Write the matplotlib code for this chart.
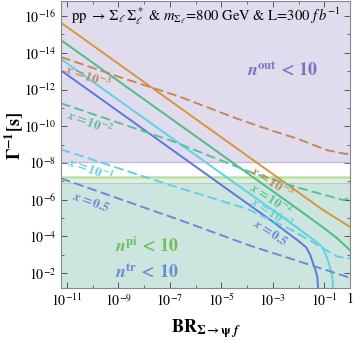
import numpy as np
import matplotlib
matplotlib.use("Agg")
import matplotlib.pyplot as plt
from matplotlib.ticker import FixedLocator, LogLocator, NullFormatter

plt.rcParams["font.family"] = "STIXGeneral"
plt.rcParams["mathtext.fontset"] = "stix"

# curves, as log10(BR) / log10(Gamma^-1 [s])
orange_solid_x = [-11.23, -1.04, 0.0]
orange_solid_y = [-15.64, -5.43, -4.52]
green_solid_x = [-11.23, -2.0, -1.0, -0.5, 0.0]
green_solid_y = [-14.69, -5.46, -4.44, -3.9, -3.25]
cyan_solid_x = [-11.23, -2.4, -1.4, -1.1, -0.95, -0.85, -0.76, -0.69, -0.66]
cyan_solid_y = [-13.66, -4.83, -3.8, -3.45, -3.05, -2.65, -2.25, -1.85, -1.19]
blue_solid_x = [-11.23, -3.0, -2.0, -1.7, -1.55, -1.45, -1.35, -1.27, -1.24]
blue_solid_y = [-13.04, -4.8, -3.75, -3.4, -3.0, -2.6, -2.2, -1.8, -1.19]

orange_dash_x = [-11.23, -9.0, -6.6, -4.5, -3.1, -2.0, -0.9, -0.13, 0.0]
orange_dash_y = [-13.77, -12.7, -11.6, -10.47, -9.79, -9.3, -8.7, -8.48, -8.7]
green_dash_x = [-11.23, -7.0, -3.77, -2.0, -0.26, 0.0]
green_dash_y = [-11.25, -9.24, -7.45, -6.65, -5.98, -6.1]
cyan_dash_x = [-11.23, -7.0, -4.0, -2.2, -0.5, 0.0]
cyan_dash_y = [-8.74, -6.8, -5.5, -4.3, -2.9, -2.8]
blue_dash_x = [-11.23, -6.61, -3.89, 0.0]
blue_dash_y = [-7.16, -4.89, -3.5, -1.75]

# excluded regions (log10 Gamma^-1 boundaries)
n_out_edge = -8.05
n_pi_edge = -7.23
n_tr_edge = -6.9

XLIM = (-11.23, 0.0)
YLIM = (-1.19, -16.82)

C_OR, C_GR, C_CY, C_BL = "#d9953a", "#4dbd84", "#5dd3e3", "#5a78e0"
C_ORd, C_GRd, C_CYd, C_BLd = "#c48a55", "#5cc09a", "#62d0e6", "#6a8cd8"

fig = plt.figure(figsize=(3.54, 3.41), dpi=100)
ax = fig.add_axes([61 / 354, 1 - 288 / 341, 289 / 354, 287 / 341])
ax.set_xscale("log"); ax.set_yscale("log")
ax.set_xlim(10 ** XLIM[0], 10 ** XLIM[1])
ax.set_ylim(10 ** YLIM[0], 10 ** YLIM[1])

xs = [10 ** XLIM[0], 10 ** XLIM[1]]
ax.fill_between(xs, 10 ** YLIM[1], 10 ** n_out_edge, color="#e0dcee", lw=0)
ax.axhline(10 ** n_out_edge, color="#c3bbe0", lw=1)
ax.fill_between(xs, 10 ** n_pi_edge, 10 ** YLIM[0], color="#e2efd8", lw=0)
ax.fill_between(xs, 10 ** n_tr_edge, 10 ** YLIM[0], color="#cce5de", lw=0)
ax.axhline(10 ** n_pi_edge, color="#bde0a8", lw=1.8)
ax.axhline(10 ** n_tr_edge, color="#b4c9d6", lw=0.8)

def p(x, y):
    return 10 ** np.array(x), 10 ** np.array(y)

for x, y, c in [(orange_solid_x, orange_solid_y, C_OR), (green_solid_x, green_solid_y, C_GR),
                (cyan_solid_x, cyan_solid_y, C_CY), (blue_solid_x, blue_solid_y, C_BL)]:
    ax.plot(*p(x, y), color=c, lw=1.4)
for x, y, c in [(orange_dash_x, orange_dash_y, C_ORd), (green_dash_x, green_dash_y, C_GRd),
                (cyan_dash_x, cyan_dash_y, C_CYd), (blue_dash_x, blue_dash_y, C_BLd)]:
    ax.plot(*p(x, y), color=c, lw=1.4, dashes=(5, 2.2))

# contour labels
lab = dict(fontsize=9.5, ha="center", va="center")
for (lx, ly), t, c in [((-10.18, -12.68), r"$\mathbfit{x}\mathbf{=10^{-3}}$", C_ORd),
                       ((-10.1, -10.17), r"$\mathbfit{x}\mathbf{=10^{-2}}$", C_GRd),
                       ((-10.1, -7.61), r"$\mathbfit{x}\mathbf{=10^{-1}}$", C_CYd),
                       ((-10.07, -5.87), r"$\mathbfit{x}\mathbf{=0.5}$", C_BLd)]:
    ax.text(10 ** lx, 10 ** ly, t, color=c, rotation=-20, **lab)
for (lx, ly), t, c in [((-3.03, -6.96), r"$\mathbfit{x}\mathbf{=10^{-3}}$", C_ORd),
                       ((-3.07, -6.03), r"$\mathbfit{x}\mathbf{=10^{-2}}$", C_GRd),
                       ((-3.07, -5.27), r"$\mathbfit{x}\mathbf{=10^{-1}}$", C_CYd),
                       ((-3.1, -4.18), r"$\mathbfit{x}\mathbf{=0.5}$", C_BLd)]:
    ax.text(10 ** lx, 10 ** ly, t, color=c, rotation=-33, **lab)

reg = dict(fontsize=13, ha="center", va="center")
ax.text(10 ** -2.6, 10 ** -13.06, r"$\mathbfit{n}^{\mathbf{out}}\mathbf{\,<\,10}$", color="#7b72c2", **reg)
ax.text(10 ** -7.9, 10 ** -3.47, r"$\mathbfit{n}^{\mathbf{pi}}\mathbf{\,<\,10}$", color="#6cc05a", **reg)
ax.text(10 ** -7.9, 10 ** -2.06, r"$\mathbfit{n}^{\mathbf{tr}}\mathbf{\,<\,10}$", color="#6a8cd0", **reg)

ax.text(10 ** -10.85, 10 ** -16.0, r"pp $\rightarrow\,\Sigma_\ell\,\Sigma_\ell^*$ & $m_{\Sigma_\ell}$=800 GeV & L=300 $f\,b^{-1}$",
        fontsize=10.5, ha="left", va="center")

# ticks
yt = [10.0 ** e for e in range(-16, -1, 2)]
ax.yaxis.set_major_locator(FixedLocator(yt))
ax.set_yticklabels([rf"$10^{{{e}}}$" for e in range(-16, -1, 2)])
xt = [10.0 ** e for e in range(-11, 1, 2)] + [1.0]
ax.xaxis.set_major_locator(FixedLocator(xt))
ax.set_xticklabels([rf"$10^{{{e}}}$" for e in range(-11, 1, 2)] + ["1"])
for a in (ax.xaxis, ax.yaxis):
    a.set_minor_locator(LogLocator(base=10, subs=(1.0,), numticks=40))
    a.set_minor_formatter(NullFormatter())
ax.tick_params(which="both", direction="in", top=True, right=True, labelsize=10, colors="#555555",
               labelcolor="black")
ax.tick_params(which="major", length=4, width=0.7)
ax.tick_params(which="minor", length=2.5, width=0.6)
for s in ax.spines.values():
    s.set_color("#888888"); s.set_linewidth(0.8)

ax.set_ylabel(r"$\mathbf{\Gamma^{-1}[s]}$", fontsize=13, va="center")
ax.yaxis.set_label_coords(-0.163, 0.53)
ax.set_xlabel(r"$\mathbf{BR}_{\mathbf{\Sigma\rightarrow\psi}\ \mathbfit{f}}$", fontsize=13, labelpad=6)

fig.savefig("out.png", dpi=100)
